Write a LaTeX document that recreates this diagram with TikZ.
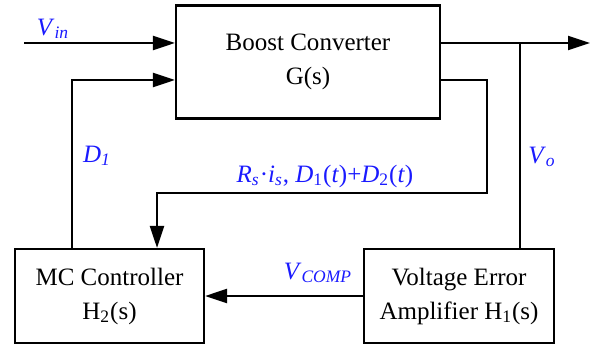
\documentclass[tikz,border=0pt]{standalone}
\usepackage{fontspec}
\setmainfont{Liberation Serif}
\usetikzlibrary{arrows.meta}
\definecolor{diagink}{HTML}{000000}
\definecolor{diaglabel}{HTML}{1A1AFF}
\newcommand{\sigsub}[2]{\textit{#1}\textsubscript{\textit{#2}}}

\begin{document}
\begin{tikzpicture}[
  x=0.5pt,
  y=-0.5pt,
  every node/.style={font=\fontsize{12.5pt}{15pt}\selectfont, diagink},
  block/.style={draw=diagink, line width=1.1pt, align=center, inner sep=0pt},
  wire/.style={diagink, line width=1.1pt},
  signal/.style={wire, -{Triangle[length=11pt, width=7pt]}},
  tag/.style={diaglabel, inner sep=0pt}
]
  % ---- page edges ------------------------------------------------------
  \useasboundingbox (0,0) rectangle (603,347);

  % ---- the three blocks ------------------------------------------------
  \node[block, minimum width=132pt, minimum height=56.5pt] (boost)
    at (308,62) {Boost Converter\\[2pt]G(s)};
  \node[block, minimum width=94.5pt, minimum height=47pt] (mc)
    at (109.5,296) {MC Controller\\[2pt]H\textsubscript{2}(s)};
  \node[block, minimum width=95pt, minimum height=47pt] (ve)
    at (459,296) {Voltage Error\\[2pt]Amplifier H\textsubscript{1}(s)};

  % ---- free ends and corners -------------------------------------------
  \coordinate (vin) at (24,43);
  \coordinate (out) at (590,43);
  \coordinate (vo) at (520,43);
  \coordinate (duty) at (72,80);
  \coordinate (sense) at (487,80);
  \coordinate (drop) at (157,193);

  % ---- input and output ------------------------------------------------
  \draw[signal] (vin) -- (vin -| boost.west);
  \draw[signal] (boost.east |- out) -- (out);

  % ---- duty cycle back into the converter ------------------------------
  \draw[signal] (duty |- mc.north) -- (duty) -- (duty -| boost.west);

  % ---- sensed current and duty back to the controller ------------------
  \draw[signal] (boost.east |- sense) -- (sense) |- (drop)
    -- (drop |- mc.north);

  % ---- output voltage to the error amplifier ---------------------------
  \draw[wire] (vo) -- (vo |- ve.north);
  \draw[signal] (ve.west) -- (mc.east);

  % ---- signal names ----------------------------------------------------
  \node[tag] (tvin) at (53,29) {\sigsub{V}{in}};
  \node[tag] (td) at (97,156) {\sigsub{D}{1}};
  \node[tag] (tsense) at (325,176)
    {\sigsub{R}{s}·\sigsub{i}{s}, \textit{D}\textsubscript{1}(\textit{t})+\textit{D}\textsubscript{2}(\textit{t})};
  \node[tag] (tvo) at (542,157) {\sigsub{V}{o}};
  \node[tag] (tvc) at (318,273) {\sigsub{V}{COMP}};
\end{tikzpicture}
\end{document}
